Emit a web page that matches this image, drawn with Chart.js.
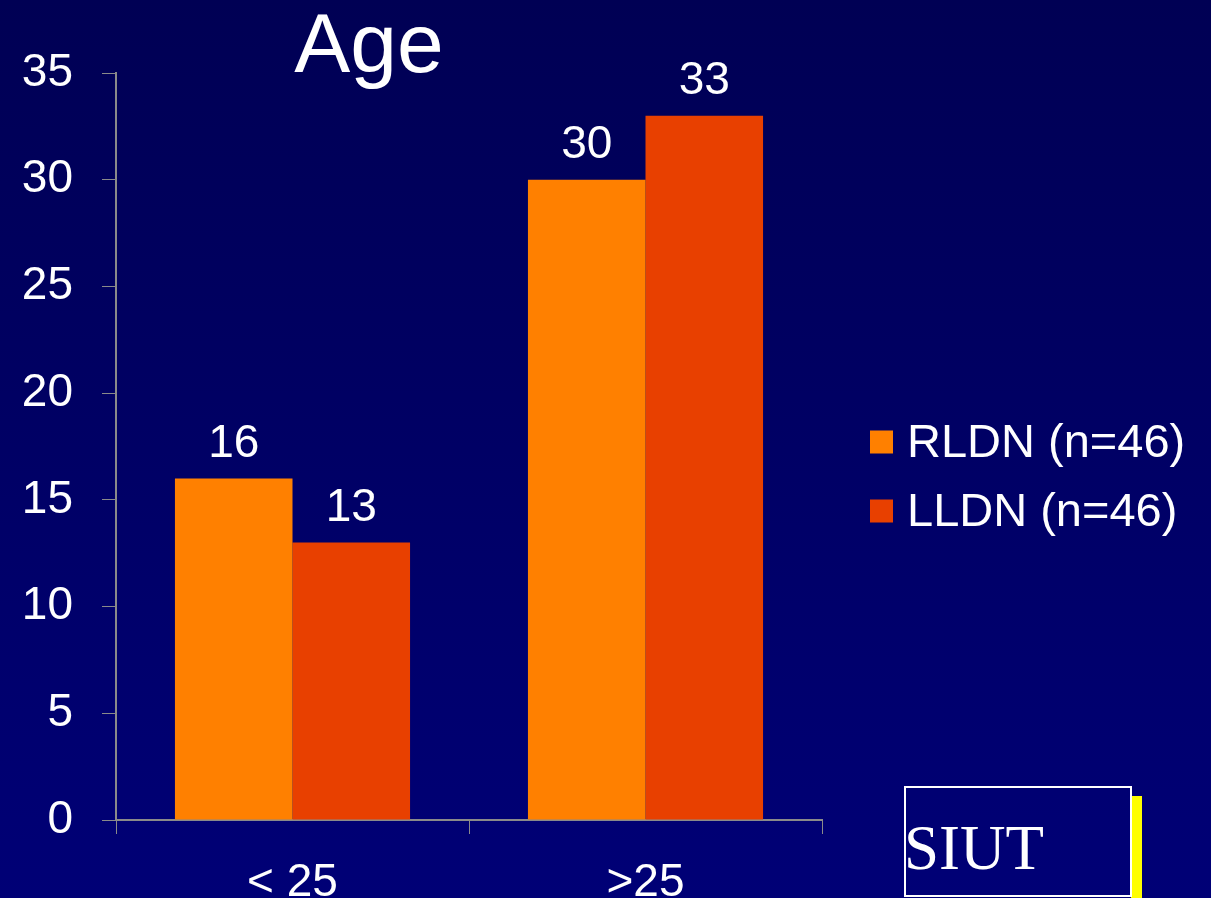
<!DOCTYPE html>
<html>
<head>
<meta charset="utf-8">
<title>Age</title>
<script src="https://cdn.jsdelivr.net/npm/chart.js@4.4.1/dist/chart.umd.min.js"></script>
<style>
  html, body { margin: 0; padding: 0; background: #000060; }
  #wrap { width: 1211px; height: 898px; position: relative; }
</style>
</head>
<body>
<div id="wrap"><canvas id="chart" width="1211" height="898"></canvas></div>
<script>
// Age groups and counts per donor nephrectomy group
const categories = ['< 25', '>25'];
const rldnValues = [16, 30];
const lldnValues = [13, 33];
const seriesNames = ['RLDN (n=46)', 'LLDN (n=46)'];
const seriesColors = ['#FF8000', '#E84000'];
const yTicks = [0, 5, 10, 15, 20, 25, 30, 35];
const chartTitle = 'Age';
const badgeText = 'SIUT';

const SANS = "'Liberation Sans', Arial, Helvetica, sans-serif";
const SERIF = "'Liberation Serif', 'Times New Roman', serif";

// Slide background: deep navy gradient behind everything
const backgroundPlugin = {
  id: 'slideBackground',
  beforeDraw(chart) {
    const { ctx, width, height } = chart;
    const g = ctx.createLinearGradient(0, 0, 0, height);
    g.addColorStop(0, '#000054');
    g.addColorStop(1, '#000076');
    ctx.save();
    ctx.fillStyle = g;
    ctx.fillRect(0, 0, width, height);
    ctx.restore();
  }
};

// Title, value labels, legend and the SIUT badge
const overlayPlugin = {
  id: 'overlay',
  afterDatasetsDraw(chart) {
    const { ctx } = chart;
    ctx.save();
    // values above bars
    ctx.fillStyle = '#FFFFFF';
    ctx.font = '46px ' + SANS;
    ctx.textAlign = 'center';
    ctx.textBaseline = 'alphabetic';
    chart.data.datasets.forEach((ds, i) => {
      const meta = chart.getDatasetMeta(i);
      meta.data.forEach((bar, j) => {
        ctx.fillText(String(ds.data[j]), bar.x, bar.y - 22);
      });
    });

    // title
    ctx.font = '84px ' + SANS;
    ctx.textAlign = 'center';
    ctx.fillText(chartTitle, 369, 72);

    // legend on the right
    ctx.font = '47px ' + SANS;
    ctx.textAlign = 'left';
    ctx.textBaseline = 'middle';
    const rowY = [442, 511];
    chart.data.datasets.forEach((ds, i) => {
      ctx.fillStyle = ds.backgroundColor;
      ctx.fillRect(870, rowY[i] - 11.5, 23, 23);
      ctx.fillStyle = '#FFFFFF';
      ctx.fillText(ds.label, 907, rowY[i] + 2);
    });

    // SIUT badge with yellow edge
    ctx.fillStyle = '#FFFF00';
    ctx.fillRect(1131, 796, 11, 102);
    ctx.strokeStyle = '#FFFFFF';
    ctx.lineWidth = 2;
    ctx.strokeRect(905, 787, 226, 109);
    ctx.fillStyle = '#FFFFFF';
    ctx.font = '63px ' + SERIF;
    ctx.textAlign = 'left';
    ctx.textBaseline = 'alphabetic';
    ctx.fillText(badgeText, 904, 869);
    ctx.restore();
  }
};

new Chart(document.getElementById('chart'), {
  type: 'bar',
  data: {
    labels: categories,
    datasets: [
      { label: seriesNames[0], data: rldnValues, backgroundColor: seriesColors[0], borderWidth: 0 },
      { label: seriesNames[1], data: lldnValues, backgroundColor: seriesColors[1], borderWidth: 0 }
    ]
  },
  options: {
    responsive: false,
    animation: false,
    devicePixelRatio: 1,
    layout: { padding: { top: 73, right: 389, bottom: 0, left: 0 } },
    plugins: {
      legend: { display: false },
      title: { display: false },
      tooltip: { enabled: false }
    },
    datasets: {
      bar: { categoryPercentage: 0.666, barPercentage: 1.0 }
    },
    scales: {
      x: {
        grid: { display: true, drawOnChartArea: false, drawTicks: true, tickLength: 14, color: '#8A8A8A', offset: true },
        border: { display: true, color: '#8A8A8A', width: 2 },
        ticks: { color: '#FFFFFF', font: { family: SANS, size: 46 }, padding: 22 },
        afterFit(scale) { scale.height = 78; }
      },
      y: {
        min: 0,
        max: 35,
        afterBuildTicks(scale) { scale.ticks = yTicks.map(v => ({ value: v })); },
        grid: { display: true, drawOnChartArea: false, drawTicks: true, tickLength: 14, color: '#8A8A8A' },
        border: { display: true, color: '#8A8A8A', width: 2 },
        ticks: { color: '#FFFFFF', font: { family: SANS, size: 46 }, padding: 29 },
        afterFit(scale) { scale.width = 116; }
      }
    }
  },
  plugins: [backgroundPlugin, overlayPlugin]
});
</script>
</body>
</html>
